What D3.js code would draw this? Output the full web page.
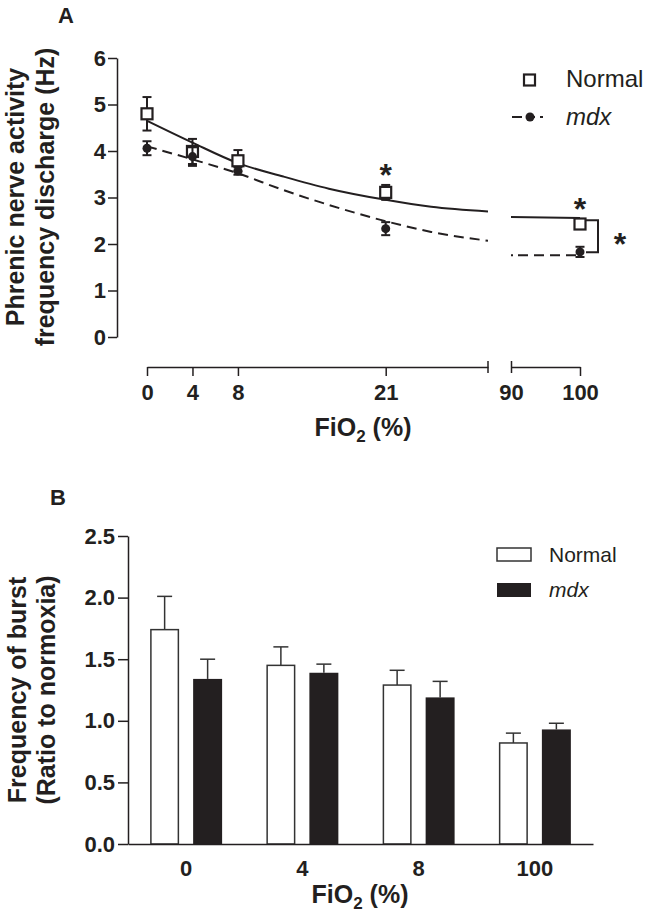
<!DOCTYPE html>
<html><head><meta charset="utf-8">
<script src="https://cdn.jsdelivr.net/npm/d3@7"></script>
<style>
body{margin:0;background:#fff}
svg{display:block}
text{font-family:"Liberation Sans",Arial,Helvetica,sans-serif;fill:#231f20}
</style>
</head><body>
<svg id="c" width="648" height="916"></svg>
<script>
// ---------- Panel A data ----------
const fio2A = [0, 4, 8, 21, 100];
const normalMeanA = [4.80, 3.99, 3.79, 3.11, 2.43];
const normalSemA = [0.36, 0.27, 0.23, 0.16, 0.10];
const mdxMeanA = [4.06, 3.88, 3.57, 2.33, 1.83];
const mdxSemA = [0.15, 0.20, 0.08, 0.14, 0.11];
// fitted curves
const fitX1 = [0, 4, 8, 12, 16, 21, 25, 30];
const normalFit1 = [4.65, 4.18, 3.74, 3.45, 3.19, 2.95, 2.80, 2.70];
const mdxFit1 = [4.10, 3.82, 3.52, 3.16, 2.84, 2.49, 2.26, 2.07];
const fitX2 = [90, 100];
const normalFit2 = [2.58, 2.56];
const mdxFit2 = [1.76, 1.76];
const yTicksA = [0, 1, 2, 3, 4, 5, 6];
const xTicksA1 = [0, 4, 8, 21];
const xTicksA2 = [90, 100];
const starsA = [21, 100];   // asterisks above Normal points

// ---------- Panel B data ----------
const fio2B = ["0", "4", "8", "100"];
const groupsB = ["Normal", "mdx"];
const normalMeanB = [1.74, 1.45, 1.29, 0.82];
const normalSemB = [0.27, 0.15, 0.12, 0.08];
const mdxMeanB = [1.34, 1.39, 1.19, 0.93];
const mdxSemB = [0.16, 0.07, 0.13, 0.05];
const yTicksB = [0, 0.5, 1.0, 1.5, 2.0, 2.5];

const ink = "#231f20";
const svg = d3.select("#c");

// ================= PANEL A =================
const yA = d3.scaleLinear().domain([0, 6]).range([337, 58]);
const xA1 = d3.scaleLinear().domain([0, 30]).range([147, 488]);
const xA2 = d3.scaleLinear().domain([90, 100]).range([511, 580]);
const xA = v => (v <= 30 ? xA1(v) : xA2(v));

svg.append("text").attr("x", 58).attr("y", 23).attr("font-size", 22).attr("font-weight", "bold").text("A");

function styleAxis(g, fs) {
  g.select(".domain").attr("stroke", ink).attr("stroke-width", 1.5);
  g.selectAll(".tick line").attr("stroke", ink).attr("stroke-width", 1.5);
  g.selectAll(".tick text").attr("fill", ink).attr("font-size", fs).attr("font-weight", "bold")
    .attr("font-family", '"Liberation Sans",Arial,sans-serif');
}

const gyA = svg.append("g").attr("transform", "translate(117,0)")
  .call(d3.axisLeft(yA).tickValues(yTicksA).tickSize(9).tickSizeOuter(0).tickPadding(2).tickFormat(d3.format("d")));
styleAxis(gyA, 22);

const gx1 = svg.append("g").attr("transform", "translate(0,367)")
  .call(d3.axisBottom(xA1).tickValues(xTicksA1).tickSize(9).tickSizeOuter(0).tickPadding(8));
styleAxis(gx1, 22);
gx1.append("line").attr("x1", xA1(30)).attr("x2", xA1(30)).attr("y1", -6).attr("y2", 6)
  .attr("stroke", ink).attr("stroke-width", 1.5);

const gx2 = svg.append("g").attr("transform", "translate(0,367)")
  .call(d3.axisBottom(xA2).tickValues(xTicksA2).tickSize(9).tickSizeOuter(0).tickPadding(8).tickFormat(d3.format("d")));
styleAxis(gx2, 22);
gx2.selectAll(".tick").filter(d => d === 90).select("line").attr("y1", -6).attr("y2", 6);

// y title A
const ytA = svg.append("g").attr("font-size", 25).attr("font-weight", "bold").attr("text-anchor", "middle");
ytA.append("text").attr("transform", "translate(24,197) rotate(-90)").text("Phrenic nerve activity");
ytA.append("text").attr("transform", "translate(54,197) rotate(-90)").text("frequency discharge (Hz)");

// x title
function fioTitle(x, y) {
  const t = svg.append("text").attr("x", x).attr("y", y).attr("text-anchor", "middle")
    .attr("font-size", 25).attr("font-weight", "bold");
  t.append("tspan").text("FiO");
  t.append("tspan").attr("font-size", 17).attr("dy", 6).text("2");
  t.append("tspan").attr("dy", -6).text(" (%)");
}
fioTitle(363, 436);

// curves
const lineA = d3.line().x(d => xA(d[0])).y(d => yA(d[1])).curve(d3.curveMonotoneX);
const seg = (xs, ys) => xs.map((x, i) => [x, ys[i]]);
svg.append("path").attr("d", lineA(seg(fitX1, normalFit1))).attr("fill", "none").attr("stroke", ink).attr("stroke-width", 2);
svg.append("path").attr("d", lineA(seg(fitX2, normalFit2))).attr("fill", "none").attr("stroke", ink).attr("stroke-width", 2);
svg.append("path").attr("d", lineA(seg(fitX1, mdxFit1))).attr("fill", "none").attr("stroke", ink).attr("stroke-width", 2)
  .attr("stroke-dasharray", "10,6");
svg.append("path").attr("d", lineA(seg(fitX2, mdxFit2))).attr("fill", "none").attr("stroke", ink).attr("stroke-width", 2)
  .attr("stroke-dasharray", "2,5,10,6,10,6,10,6,10,6,10,6");

function errA(means, sems) {
  const g = svg.append("g").attr("stroke", ink).attr("stroke-width", 2);
  fio2A.forEach((f, i) => {
    const x = xA(f), y1 = yA(means[i] - sems[i]), y2 = yA(means[i] + sems[i]);
    g.append("line").attr("x1", x).attr("x2", x).attr("y1", y1).attr("y2", y2);
    g.append("line").attr("x1", x - 4.5).attr("x2", x + 4.5).attr("y1", y1).attr("y2", y1);
    g.append("line").attr("x1", x - 4.5).attr("x2", x + 4.5).attr("y1", y2).attr("y2", y2);
  });
}
errA(normalMeanA, normalSemA);
svg.append("g").selectAll("rect").data(fio2A).join("rect")
  .attr("x", (d) => xA(d) - 5.5).attr("y", (d, i) => yA(normalMeanA[i]) - 5.5)
  .attr("width", 11).attr("height", 11).attr("fill", "#fff").attr("stroke", ink).attr("stroke-width", 2.2);
errA(mdxMeanA, mdxSemA);
svg.append("g").selectAll("circle").data(fio2A).join("circle")
  .attr("cx", d => xA(d)).attr("cy", (d, i) => yA(mdxMeanA[i])).attr("r", 4.5).attr("fill", ink);

// asterisks
starsA.forEach(f => {
  const i = fio2A.indexOf(f);
  svg.append("text").attr("x", xA(f)).attr("y", yA(normalMeanA[i] + normalSemA[i]) + 1)
    .attr("text-anchor", "middle").attr("font-size", 32).attr("font-weight", "bold").text("*");
});
// bracket between groups at 100
{
  const i = fio2A.indexOf(100);
  const yt = yA(normalMeanA[i] + 0.08), yb = yA(mdxMeanA[i] - 0.01), xb = xA2(100) + 18;
  svg.append("path").attr("d", `M${xb - 12},${yt}H${xb}V${yb}H${xb - 12}`)
    .attr("fill", "none").attr("stroke", ink).attr("stroke-width", 2);
  svg.append("text").attr("x", xb + 22).attr("y", (yt + yb) / 2 + 19).attr("text-anchor", "middle")
    .attr("font-size", 32).attr("font-weight", "bold").text("*");
}

// legend A
svg.append("rect").attr("x", 524).attr("y", 74.5).attr("width", 11).attr("height", 11)
  .attr("fill", "#fff").attr("stroke", ink).attr("stroke-width", 2.2);
svg.append("text").attr("x", 566).attr("y", 87).attr("font-size", 24).text("Normal");
svg.append("line").attr("x1", 512).attr("x2", 549).attr("y1", 117).attr("y2", 117)
  .attr("stroke", ink).attr("stroke-width", 2).attr("stroke-dasharray", "10,8,5,5,3,10");
svg.append("circle").attr("cx", 530).attr("cy", 117).attr("r", 4.5).attr("fill", ink);
svg.append("text").attr("x", 566).attr("y", 125).attr("font-size", 24).attr("font-style", "italic").text("mdx");

// ================= PANEL B =================
const yB = d3.scaleLinear().domain([0, 2.5]).range([844, 536]);
const x0 = d3.scaleBand().domain(fio2B).range([128, 593]).paddingInner(0).paddingOuter(0);
const x1 = d3.scaleBand().domain(groupsB).range([0, x0.bandwidth()]).paddingInner(0.326).paddingOuter(0.515);

svg.append("text").attr("x", 50).attr("y", 505).attr("font-size", 22).attr("font-weight", "bold").text("B");

const gyB = svg.append("g").attr("transform", "translate(128,0)")
  .call(d3.axisLeft(yB).tickValues(yTicksB).tickSize(10).tickSizeOuter(0).tickPadding(3).tickFormat(d3.format(".1f")));
styleAxis(gyB, 22);
const gxB = svg.append("g").attr("transform", "translate(0,844)")
  .call(d3.axisBottom(x0).tickSize(0).tickSizeOuter(0).tickPadding(16));
styleAxis(gxB, 22);

const ytB = svg.append("g").attr("font-size", 25).attr("font-weight", "bold").attr("text-anchor", "middle");
ytB.append("text").attr("transform", "translate(26,690) rotate(-90)").text("Frequency of burst");
ytB.append("text").attr("transform", "translate(55,690) rotate(-90)").text("(Ratio to normoxia)");
fioTitle(360, 903);

const rowsB = fio2B.map((f, i) => ({ f, vals: [
  { g: "Normal", m: normalMeanB[i], s: normalSemB[i] },
  { g: "mdx", m: mdxMeanB[i], s: mdxSemB[i] }] }));
const gB = svg.append("g");
rowsB.forEach(r => {
  r.vals.forEach(v => {
    const x = x0(r.f) + x1(v.g), w = x1.bandwidth();
    const cx = x + w / 2;
    gB.append("line").attr("x1", cx).attr("x2", cx).attr("y1", yB(v.m)).attr("y2", yB(v.m + v.s))
      .attr("stroke", "#333").attr("stroke-width", 1.5);
    gB.append("line").attr("x1", cx - 7.5).attr("x2", cx + 7.5).attr("y1", yB(v.m + v.s)).attr("y2", yB(v.m + v.s))
      .attr("stroke", "#333").attr("stroke-width", 1.5);
    if (v.g === "Normal") {
      gB.append("rect").attr("x", x + 0.75).attr("y", yB(v.m)).attr("width", w - 1.5).attr("height", yB(0) - yB(v.m))
        .attr("fill", "#fff").attr("stroke", "#333").attr("stroke-width", 1.5);
    } else {
      gB.append("rect").attr("x", x).attr("y", yB(v.m)).attr("width", w).attr("height", yB(0) - yB(v.m))
        .attr("fill", ink);
    }
  });
});
gxB.raise();

// legend B
svg.append("rect").attr("x", 497).attr("y", 548).attr("width", 34).attr("height", 13)
  .attr("fill", "#fff").attr("stroke", "#333").attr("stroke-width", 1.5);
svg.append("text").attr("x", 549).attr("y", 562).attr("font-size", 21).text("Normal");
svg.append("rect").attr("x", 497).attr("y", 583).attr("width", 34).attr("height", 14).attr("fill", ink);
svg.append("text").attr("x", 549).attr("y", 597).attr("font-size", 21).attr("font-style", "italic").text("mdx");
</script>
</body></html>
